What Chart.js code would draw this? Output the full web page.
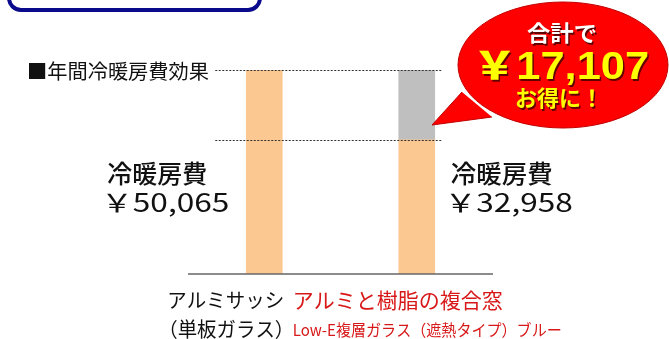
<!DOCTYPE html>
<html>
<head>
<meta charset="utf-8">
<script src="https://cdn.jsdelivr.net/npm/chart.js@4/dist/chart.umd.min.js"></script>
<style>
body { margin: 0; background: #fff; }
#myChart { display: block; }
</style>
</head>
<body>
<canvas id="myChart" width="669" height="339"></canvas>
<script>
// data
const categories = ['アルミサッシ（単板ガラス）', 'アルミと樹脂の複合窓 Low-E複層ガラス（遮熱タイプ）ブルー'];
const categoryLines = [['アルミサッシ', '（単板ガラス）'], ['アルミと樹脂の複合窓', 'Low-E複層ガラス（遮熱タイプ）ブルー']];
const heatingCost = [50065, 32958];
const savings = [null, 17107];
const costLabels = ['￥50,065', '￥32,958'];
const savingLabel = '￥17,107';

const jp = '"Noto Sans CJK JP", "Noto Sans", sans-serif';

// draw text, optionally squeezed/stretched to a given width
drawText = (ctx, text, x, y, font, color, width, align) => {
    ctx.save();
    ctx.font = font;
    ctx.fillStyle = color;
    ctx.textBaseline = 'middle';
    ctx.textAlign = 'left';
    let w = ctx.measureText(text).width;
    let sx = width ? width / w : 1;
    let left = align === 'center' ? x - w * sx / 2 : x;
    ctx.translate(left, y);
    ctx.scale(sx, 1);
    ctx.fillText(text, 0, 0);
    ctx.restore();
}

const decorPlugin = {
    id: 'decor',
    afterDatasetsDraw(chart) {
        const ctx = chart.ctx;
        const xs = chart.scales.x;
        const ys = chart.scales.y;
        const area = chart.chartArea;
        const x0 = xs.getPixelForValue(0);
        const x1 = xs.getPixelForValue(1);

        // baseline
        ctx.save();
        ctx.strokeStyle = '#666';
        ctx.lineWidth = 1.5;
        ctx.beginPath();
        ctx.moveTo(area.left, ys.getPixelForValue(0));
        ctx.lineTo(area.right, ys.getPixelForValue(0));
        ctx.stroke();

        // dotted guide lines
        ctx.strokeStyle = '#333';
        ctx.lineWidth = 1;
        ctx.setLineDash([2, 1.5]);
        [heatingCost[0], heatingCost[1]].forEach(v => {
            let y = Math.round(ys.getPixelForValue(v)) + 0.5;
            ctx.beginPath();
            ctx.moveTo(x0 - 49, y);
            ctx.lineTo(x1 + 26, y);
            ctx.stroke();
        });
        ctx.restore();

        // blue box at top
        ctx.save();
        ctx.strokeStyle = '#0a0a8c';
        ctx.lineWidth = 4;
        ctx.beginPath();
        ctx.roundRect(9, -40, 251, 50, 12);
        ctx.stroke();
        ctx.restore();

        drawText(ctx, '■年間冷暖房費効果', 27, 71, '20px ' + jp, '#111', 182);

        // cost labels beside bars
        drawText(ctx, '冷暖房費', x0 - 157, 173, '500 25px ' + jp, '#111', 100);
        drawText(ctx, costLabels[0], x0 - 163, 202, '25px ' + jp, '#111', 128);
        drawText(ctx, '冷暖房費', x1 + 34, 173, '500 25px ' + jp, '#111', 102);
        drawText(ctx, costLabels[1], x1 + 28, 202, '25px ' + jp, '#111', 128);

        // category labels
        drawText(ctx, categoryLines[0][0], x0 - 97, 300, '20px ' + jp, '#111', 117);
        drawText(ctx, categoryLines[0][1], x0 - 106, 329, '20px ' + jp, '#111', 136);
        drawText(ctx, categoryLines[1][0], x1 - 124, 300, '21px ' + jp, '#d81818', 210);
        drawText(ctx, categoryLines[1][1], x1 - 124, 330, '16px ' + jp, '#d81818', 269);

        // speech bubble
        ctx.save();
        ctx.fillStyle = '#ff0000';
        ctx.strokeStyle = '#c00000';
        ctx.lineWidth = 1;
        ctx.beginPath();
        ctx.ellipse(563, 65, 105, 63, 0, 0, Math.PI * 2);
        ctx.fill();
        ctx.stroke();
        ctx.beginPath();
        ctx.moveTo(462, 92);
        ctx.lineTo(432, 125);
        ctx.lineTo(492, 117);
        ctx.closePath();
        ctx.fill();
        ctx.beginPath();
        ctx.moveTo(462, 92);
        ctx.lineTo(432, 125);
        ctx.lineTo(492, 117);
        ctx.stroke();
        ctx.beginPath();
        ctx.ellipse(563, 65, 104, 62, 0, 0, Math.PI * 2);
        ctx.fill();
        ctx.restore();

        ctx.save();
        ctx.shadowColor = 'rgba(70,0,0,0.85)';
        ctx.shadowOffsetX = 1.5;
        ctx.shadowOffsetY = 1.5;
        drawText(ctx, '合計で', 562, 33, 'bold 22px ' + jp, '#ffffff', 70, 'center');
        drawText(ctx, savingLabel, 561, 69, '900 38px "Liberation Sans", ' + jp, '#ffff00', 176, 'center');
        drawText(ctx, 'お得に！', 559, 98, 'bold 22px ' + jp, '#ffff00', 88, 'center');
        ctx.restore();
    }
};

let ctx = document.getElementById('myChart').getContext('2d');
let myChart = new Chart(ctx, {
    type: 'bar',
    data: {
        labels: categories,
        datasets: [{
            label: '冷暖房費',
            data: heatingCost,
            backgroundColor: '#fcc892',
            barThickness: 36
        }, {
            label: '削減額',
            data: savings,
            backgroundColor: '#bfbfbf',
            barThickness: 36
        }]
    },
    options: {
        responsive: false,
        animation: false,
        layout: {
            padding: { left: 188, right: 176, top: 70, bottom: 65 }
        },
        scales: {
            x: { stacked: true, display: false },
            y: { stacked: true, display: false, min: 0, max: heatingCost[0] }
        },
        plugins: {
            legend: { display: false },
            tooltip: { enabled: false }
        }
    },
    plugins: [decorPlugin]
});
</script>
</body>
</html>
